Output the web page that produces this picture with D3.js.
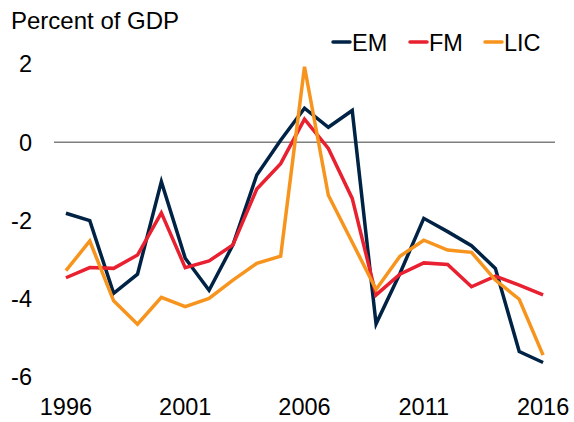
<!DOCTYPE html>
<html>
<head>
<meta charset="utf-8">
<script src="https://cdn.jsdelivr.net/npm/d3@7"></script>
<style>
  body { margin: 0; background: #fff; }
  text { font-family: "Liberation Sans", Arial, sans-serif; fill: #000; }
</style>
</head>
<body>
<div id="chart"></div>
<script>
// data
var years = d3.range(1996, 2017);
var em  = [-1.82, -2.01, -3.87, -3.38, -1.01, -2.97, -3.79, -2.63, -0.84, 0.05, 0.87, 0.38, 0.81, -4.65, -3.36, -1.95, -2.29, -2.65, -3.23, -5.36, -5.64];
var fm  = [-3.47, -3.21, -3.23, -2.89, -1.81, -3.21, -3.04, -2.63, -1.20, -0.55, 0.59, -0.16, -1.44, -3.91, -3.38, -3.09, -3.13, -3.70, -3.43, -3.66, -3.91];
var lic = [-3.29, -2.53, -4.06, -4.66, -3.97, -4.21, -4.00, -3.53, -3.10, -2.92, 1.93, -1.36, -2.56, -3.77, -2.92, -2.51, -2.76, -2.82, -3.53, -4.02, -5.45];
var yTicks = [2, 0, -2, -4, -6];
var xTicks = [1996, 2001, 2006, 2011, 2016];

var series = [
  { name: "EM",  values: em,  color: "#002345" },
  { name: "FM",  values: fm,  color: "#E8202F" },
  { name: "LIC", values: lic, color: "#F7941D" }
];

var width = 574, height = 422;
var margin = { top: 64, right: 19, bottom: 45, left: 54 };

var svg = d3.select("#chart")
  .append("svg")
  .attr("width", width)
  .attr("height", height);

var x = d3.scalePoint()
  .domain(years)
  .range([margin.left, width - margin.right])
  .padding(0.5);

var y = d3.scaleLinear()
  .domain([-6, 2])
  .range([376.6, margin.top]);

// title
svg.append("text")
  .attr("x", 11)
  .attr("y", 29)
  .style("font-size", "24px")
  .text("Percent of GDP");

// y labels
svg.selectAll(".ylab")
  .data(yTicks)
  .enter().append("text")
  .attr("class", "ylab")
  .attr("x", 32)
  .attr("y", function(d) { return y(d); })
  .attr("dy", "0.36em")
  .attr("text-anchor", "end")
  .style("font-size", "23.5px")
  .text(function(d) { return d; });

// x labels
svg.selectAll(".xlab")
  .data(xTicks)
  .enter().append("text")
  .attr("class", "xlab")
  .attr("x", function(d) { return x(d); })
  .attr("y", 415)
  .attr("text-anchor", "middle")
  .style("font-size", "23.5px")
  .text(function(d) { return d; });

// zero line
svg.append("line")
  .attr("x1", margin.left)
  .attr("x2", width - margin.right)
  .attr("y1", y(0))
  .attr("y2", y(0))
  .attr("stroke", "#7f7f7f")
  .attr("stroke-width", 1.5);

var line = d3.line()
  .x(function(d, i) { return x(years[i]); })
  .y(function(d) { return y(d); });

svg.selectAll(".series")
  .data(series)
  .enter().append("path")
  .attr("class", "series")
  .attr("d", function(d) { return line(d.values); })
  .attr("fill", "none")
  .attr("stroke", function(d) { return d.color; })
  .attr("stroke-width", 3.5)
  .attr("stroke-linejoin", "miter");

// legend
var legendX = [333, 410, 485];
var legend = svg.selectAll(".legend")
  .data(series)
  .enter().append("g")
  .attr("class", "legend")
  .attr("transform", function(d, i) { return "translate(" + legendX[i] + ",42)"; });

legend.append("line")
  .attr("x1", 0)
  .attr("x2", 17)
  .attr("stroke", function(d) { return d.color; })
  .attr("stroke-width", 3.5)
  .attr("stroke-linecap", "round");

legend.append("text")
  .attr("x", 19)
  .attr("y", 8.5)
  .style("font-size", "23.5px")
  .text(function(d) { return d.name; });
</script>
</body>
</html>
